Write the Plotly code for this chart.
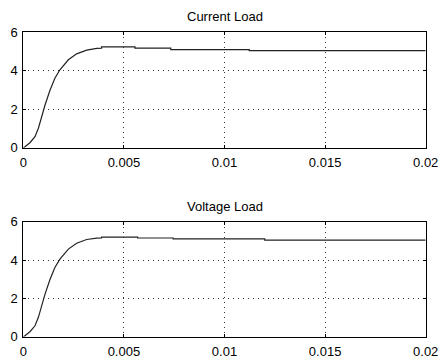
import plotly.graph_objects as go

# Data (time in s, values)
t_current = [0, 0.00008, 0.00033, 0.00058, 0.00075, 0.00091, 0.00108, 0.00133, 0.00157,
             0.00182, 0.00224, 0.00265, 0.00315, 0.00365, 0.00389, 0.00389, 0.00555, 0.00555,
             0.00733, 0.00733, 0.01123, 0.01123, 0.02]
v_current = [0.0, 0.05, 0.26, 0.57, 1.01, 1.61, 2.22, 3.0, 3.61,
             4.05, 4.57, 4.88, 5.07, 5.16, 5.17, 5.24, 5.24, 5.18,
             5.18, 5.10, 5.10, 5.05, 5.05]

t_voltage = [0, 0.00008, 0.00033, 0.00058, 0.00075, 0.00091, 0.00108, 0.00133, 0.00157,
             0.00182, 0.00224, 0.00265, 0.00315, 0.00365, 0.00389, 0.00389, 0.00568, 0.00568,
             0.00745, 0.00745, 0.01200, 0.01200, 0.02]
v_voltage = [0.0, 0.05, 0.26, 0.57, 1.01, 1.61, 2.22, 3.0, 3.61,
             4.05, 4.57, 4.88, 5.07, 5.14, 5.15, 5.20, 5.20, 5.15,
             5.15, 5.10, 5.10, 5.04, 5.04]

titles = ["Current Load", "Voltage Load"]
x_ticks = [0, 0.005, 0.01, 0.015, 0.02]
x_tick_labels = ["0", "0.005", "0.01", "0.015", "0.02"]
y_ticks = [0, 2, 4, 6]
y_tick_labels = ["0", "2", "4", "6"]

W, H = 443, 360
FONT = dict(family="Liberation Sans, Arial, sans-serif", size=13, color="black")

fig = go.Figure()
fig.add_trace(go.Scatter(x=t_current, y=v_current, mode="lines",
                         line=dict(color="#222222", width=1.2), xaxis="x", yaxis="y",
                         showlegend=False))
fig.add_trace(go.Scatter(x=t_voltage, y=v_voltage, mode="lines",
                         line=dict(color="#222222", width=1.2), xaxis="x2", yaxis="y2",
                         showlegend=False))

xdom = [23.3 / W, 425.7 / W]
ydom1 = [1 - 147.7 / H, 1 - 32.3 / H]
ydom2 = [1 - 336.7 / H, 1 - 221.7 / H]

GRID = dict(showgrid=True, gridcolor="#333333", griddash="1px,4px", gridwidth=1)

def xax(anchor):
    return dict(domain=xdom, range=[0, 0.02], anchor=anchor, tickvals=x_ticks,
                ticktext=x_tick_labels, ticks="inside", ticklen=3, tickcolor="black",
                showline=True, linecolor="black", linewidth=1, mirror="ticks",
                zeroline=False, tickfont=FONT, fixedrange=True, automargin=False,
                ticklabelstandoff=3, **GRID)

def yax(anchor, dom):
    return dict(domain=dom, range=[0, 6], anchor=anchor, tickvals=y_ticks,
                ticktext=y_tick_labels, ticks="inside", ticklen=3, tickcolor="black",
                showline=True, linecolor="black", linewidth=1, mirror="ticks",
                zeroline=False, tickfont=FONT, fixedrange=True, automargin=False,
                ticklabelstandoff=2, **GRID)

fig.update_layout(
    width=W, height=H,
    margin=dict(l=0, r=0, t=0, b=0),
    paper_bgcolor="white", plot_bgcolor="white",
    xaxis=xax("y"), yaxis=yax("x", ydom1),
    xaxis2=xax("y2"), yaxis2=yax("x2", ydom2),
    annotations=[
        dict(text=titles[0], x=(xdom[0] + xdom[1]) / 2, y=ydom1[1], xref="paper", yref="paper",
             xanchor="center", yanchor="bottom", yshift=6, showarrow=False, font=FONT),
        dict(text=titles[1], x=(xdom[0] + xdom[1]) / 2, y=ydom2[1], xref="paper", yref="paper",
             xanchor="center", yanchor="bottom", yshift=6, showarrow=False, font=FONT),
    ],
)

fig.write_html("out.html")
